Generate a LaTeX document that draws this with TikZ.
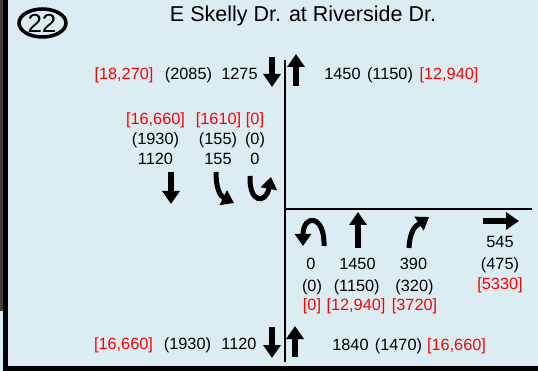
\documentclass[tikz,border=0pt]{standalone}
\usepackage{fontspec}
\setmainfont{Liberation Sans}
\usetikzlibrary{arrows.meta}
\definecolor{bgblue}{RGB}{219,237,243}
\definecolor{strip}{RGB}{70,62,50}
\definecolor{redtxt}{RGB}{255,0,0}
\begin{document}
\begin{tikzpicture}[x=1pt,y=-1pt,
  lbl/.style={font=\fontsize{16.3}{18}\selectfont, inner sep=0pt, anchor=base},
  rlbl/.style={lbl, text=redtxt},
  sarrow/.style={line width=6pt, -{Triangle[length=13pt,width=17pt]}},
  carrow/.style={line width=5pt, -{Triangle[length=12pt,width=16pt]}},
  road/.style={line width=2.2pt}]
\useasboundingbox (0,0) rectangle (538,371);
% background and frame
\fill[bgblue] (0,0) rectangle (538,371);
\fill[strip] (0,0) rectangle (3,311);
\fill[black] (3,0) rectangle (8,371);
\fill[black] (3,366) rectangle (538,371);
% number badge
\draw[line width=3.5pt] (42.5,23) ellipse [x radius=23.5, y radius=14];
\node[inner sep=0pt, font=\fontsize{26}{28}\selectfont] (badge) at (42,23.5) {22};
% title
\node[inner sep=0pt, font=\fontsize{21.5}{24}\selectfont] (title) at (303,16) {E Skelly Dr. at Riverside Dr.};
% roads
\coordinate (vtop) at (285,60);
\coordinate (vbot) at (285,362);
\coordinate (hl) at (285,209);
\coordinate (hr) at (532,209);
\draw[road] (vtop) -- (vbot);
\draw[road] (hl) -- (hr);
% top row
\node[rlbl] (t1) at (124,79.5) {[18,270]};
\node[lbl] (t2) at (188.5,79.5) {(2085)};
\node[lbl] (t3) at (239.5,79.5) {1275};
\coordinate (tda) at (272,57); \coordinate (tdb) at (272,87);
\draw[sarrow] (tda) -- (tdb);
\coordinate (tua) at (296,86); \coordinate (tub) at (296,54);
\draw[sarrow] (tua) -- (tub);
\node[lbl] (t4) at (342.5,80) {1450};
\node[lbl] (t5) at (390,80) {(1150)};
\node[rlbl] (t6) at (449,80) {[12,940]};
% southbound lanes
\node[rlbl] (s1a) at (155.5,124.5) {[16,660]};
\node[lbl] (s1b) at (155.5,145) {(1930)};
\node[lbl] (s1c) at (155.5,165) {1120};
\node[rlbl] (s2a) at (218.5,124.5) {[1610]};
\node[lbl] (s2b) at (218,145) {(155)};
\node[lbl] (s2c) at (218,165) {155};
\node[rlbl] (s3a) at (255,124.5) {[0]};
\node[lbl] (s3b) at (255,145) {(0)};
\node[lbl] (s3c) at (255,165) {0};
\coordinate (s1ta) at (171,172); \coordinate (s1tb) at (171,204);
\draw[sarrow] (s1ta) -- (s1tb);
\coordinate (s2ta) at (216,172); \coordinate (s2tb) at (234,203);
\draw[carrow] (s2ta) .. controls (216,188) and (220,196) .. (s2tb);
\coordinate (s3ta) at (250,176); \coordinate (s3tb) at (271,177);
\draw[carrow] (s3ta) .. controls (249,204) and (266,204) .. (s3tb);
% northbound lanes
\coordinate (n1ta) at (324,246); \coordinate (n1tb) at (303,246);
\draw[carrow] (n1ta) .. controls (325,214) and (303,214) .. (n1tb);
\coordinate (n2ta) at (358,248); \coordinate (n2tb) at (358,212);
\draw[sarrow] (n2ta) -- (n2tb);
\coordinate (n3ta) at (409,248); \coordinate (n3tb) at (429,217);
\draw[carrow] (n3ta) .. controls (410,232) and (414,227) .. (n3tb);
\node[lbl] (n1a) at (311,270) {0};
\node[lbl] (n1b) at (312,291) {(0)};
\node[rlbl] (n1c) at (312,310.5) {[0]};
\node[lbl] (n2a) at (357.5,270) {1450};
\node[lbl] (n2b) at (356.7,291) {(1150)};
\node[rlbl] (n2c) at (356,310.5) {[12,940]};
\node[lbl] (n3a) at (413.5,270) {390};
\node[lbl] (n3b) at (414.5,291) {(320)};
\node[rlbl] (n3c) at (414.5,310.5) {[3720]};
% eastbound
\coordinate (eta) at (483,221); \coordinate (etb) at (519,221);
\draw[sarrow] (eta) -- (etb);
\node[lbl] (e1) at (500,248) {545};
\node[lbl] (e2) at (500,270) {(475)};
\node[rlbl] (e3) at (500,290) {[5330]};
% bottom row
\node[rlbl] (b1) at (123.5,349) {[16,660]};
\node[lbl] (b2) at (187.5,349) {(1930)};
\node[lbl] (b3) at (239,349) {1120};
\coordinate (bda) at (272,327); \coordinate (bdb) at (272,358);
\draw[sarrow] (bda) -- (bdb);
\coordinate (bua) at (295,357); \coordinate (bub) at (295,326);
\draw[sarrow] (bua) -- (bub);
\node[lbl] (b4) at (350.5,350) {1840};
\node[lbl] (b5) at (398.5,350) {(1470)};
\node[rlbl] (b6) at (456.5,350) {[16,660]};
\end{tikzpicture}
\end{document}
